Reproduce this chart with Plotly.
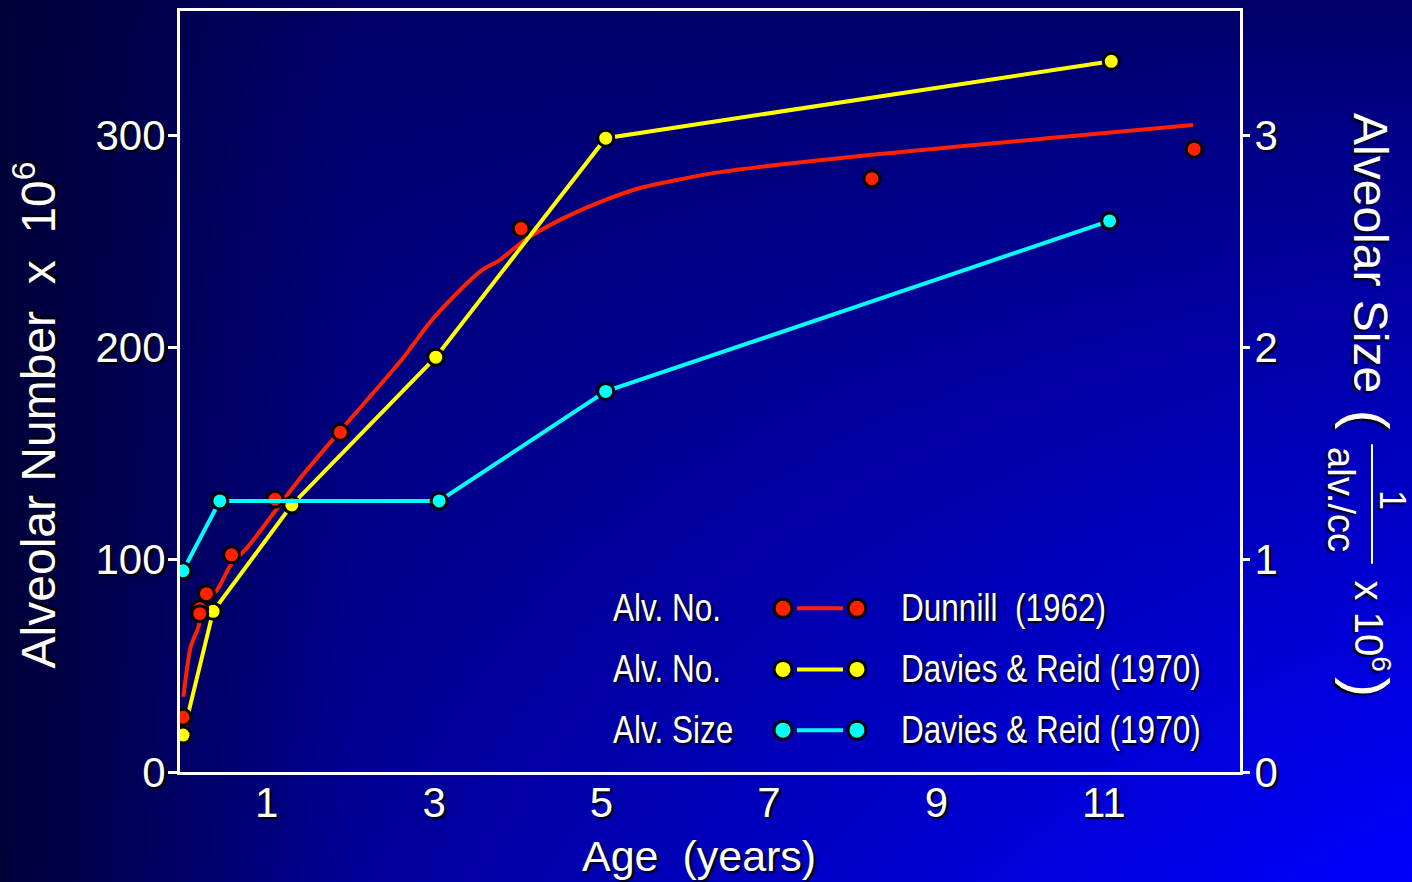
import base64, struct, zlib
import numpy as np
import plotly.graph_objects as go

# ---------------- data ----------------
# Dunnill (1962) alveolar number (x 10^6) - points
dunnill_age = [0.0, 0.2, 0.2, 0.28, 0.58, 1.10, 1.88, 4.04, 8.23, 12.08]
dunnill_num = [25.8, 76.9, 74.6, 84.0, 102.3, 128.5, 160.0, 256.0, 279.5, 293.4]
# Dunnill fitted curve
dunnill_fit_age = [0.004, 0.092, 0.183, 0.263, 0.40, 0.58, 0.765, 1.374, 1.876, 2.617,
                   2.987, 3.548, 3.787, 4.086, 4.504, 4.982, 5.46, 5.90, 6.416, 7.969, 12.067]
dunnill_fit_num = [35.4, 58.8, 68.2, 80.8, 85.4, 98.1, 105.6, 137.1, 160.6, 194.4,
                   213.6, 235.7, 241.3, 250.7, 260.1, 268.5, 275.1, 278.9, 282.6, 289.7, 304.8]
# Davies & Reid (1970) alveolar number
davies_age = [0.0, 0.36, 1.30, 3.02, 5.05, 11.09]
davies_num = [17.4, 75.7, 125.8, 195.4, 298.6, 334.8]
# Davies & Reid (1970) alveolar size (1/(alv./cc) x 10^6)
size_age = [0.0, 0.44, 3.06, 5.05, 11.07]
size_val = [0.948, 1.277, 1.277, 1.793, 2.596]

x_ticks = [1, 3, 5, 7, 9, 11]
y_ticks = [0, 100, 200, 300]
y2_ticks = [0, 1, 2, 3]

legend_left = ["Alv. No.", "Alv. No.", "Alv. Size"]
legend_right = ["Dunnill\u00a0\u00a0(1962)", "Davies & Reid (1970)", "Davies & Reid (1970)"]

# ---------------- styling ----------------
W, H = 1412, 882
L, R, T, B = 180, 172, 8, 110
PW, PH = W - L - R, H - T - B
RED, YEL, CYA = "#ff2200", "#ffff00", "#00ffff"
FONT = "Liberation Sans, Arial, Helvetica, sans-serif"
NARROW = "Liberation Sans Narrow, Arial Narrow, Liberation Sans, sans-serif"
SHADOW = "2px 2px 2px #000000"


def px(xp):
    return (xp - L) / PW


def py(yp):
    return (H - B - yp) / PH


# background gradient as PNG
def make_png(arr):
    h, w, _ = arr.shape
    raw = b"".join(b"\x00" + arr[i].tobytes() for i in range(h))

    def chunk(t, d):
        c = struct.pack(">I", len(d)) + t + d
        return c + struct.pack(">I", zlib.crc32(t + d) & 0xffffffff)

    png = b"\x89PNG\r\n\x1a\n" + chunk(b"IHDR", struct.pack(">IIBBBBB", w, h, 8, 2, 0, 0, 0))
    png += chunk(b"IDAT", zlib.compress(raw, 9)) + chunk(b"IEND", b"")
    return "data:image/png;base64," + base64.b64encode(png).decode()


gw, gh = 353, 221
U, V = np.meshgrid((np.arange(gw) + 0.5) / gw, (np.arange(gh) + 0.5) / gh)
blue = (0x66 + 0x99 * (U * V) ** 0.8) * (0.55 + 0.45 * np.minimum(1, U / 0.25))
img = np.zeros((gh, gw, 3), dtype=np.uint8)
img[..., 2] = np.clip(blue, 0, 255).astype(np.uint8)
bg_src = make_png(img)

mk = lambda c: dict(size=16, color=c, line=dict(color="black", width=3))

fig = go.Figure()
fig.add_trace(go.Scatter(x=dunnill_fit_age, y=dunnill_fit_num, mode="lines",
                         line=dict(color=RED, width=4, shape="spline", smoothing=0.8),
                         hoverinfo="skip"))
fig.add_trace(go.Scatter(x=size_age, y=size_val, mode="lines+markers", yaxis="y2",
                         line=dict(color=CYA, width=4), marker=mk(CYA)))
fig.add_trace(go.Scatter(x=davies_age, y=davies_num, mode="lines+markers",
                         line=dict(color=YEL, width=4), marker=mk(YEL)))
fig.add_trace(go.Scatter(x=dunnill_age, y=dunnill_num, mode="markers", marker=mk(RED)))

tickfont = dict(family=FONT, size=42, color="white", shadow=SHADOW)
fig.update_layout(
    width=W, height=H, autosize=False,
    margin=dict(l=L, r=R, t=T, b=B, pad=0),
    paper_bgcolor="#000050", plot_bgcolor="rgba(0,0,0,0)",
    showlegend=False,
    xaxis=dict(range=[-0.036, 12.628], tickvals=x_ticks, ticks="", showgrid=False,
               zeroline=False, showline=True, mirror=True, linecolor="white", linewidth=3,
               tickfont=tickfont, ticklabelstandoff=-8),
    yaxis=dict(range=[0, 358.5], tickvals=y_ticks, ticks="outside", ticklen=9, tickwidth=3,
               tickcolor="white", showgrid=False, zeroline=False, showline=True, mirror=True,
               linecolor="white", linewidth=3, tickfont=tickfont, ticklabelstandoff=-6),
    yaxis2=dict(range=[0, 3.585], tickvals=y2_ticks, overlaying="y", side="right",
                ticks="outside", ticklen=9, tickwidth=3, tickcolor="white", showgrid=False,
                zeroline=False, showline=False, tickfont=tickfont, ticklabelstandoff=-4),
    images=[dict(source=bg_src, xref="paper", yref="paper", x=-(L + 3) / PW,
                 y=1 + (T + 3) / PH, sizex=(W + 6) / PW, sizey=(H + 6) / PH,
                 sizing="stretch", xanchor="left", yanchor="top", layer="below")],
)

ann = []


def text(s, xp, yp, size, angle=0, fam=FONT, xa="center"):
    ann.append(dict(text=s, x=px(xp), y=py(yp), xref="paper", yref="paper", showarrow=False,
                    textangle=angle, xanchor=xa, yanchor="middle",
                    font=dict(family=fam, size=size, color="white", shadow=SHADOW)))


text("Alveolar Number\u00a0\u00a0x\u00a0\u00a010<sup>6</sup>", 35, 414, 48, angle=-90)
text("Age\u00a0\u00a0(years)", 699, 856, 43)
text("Alveolar Size", 1371, 251, 48, angle=90)
text("(", 1368, 418, 60, angle=90)
text("1", 1393, 499, 36, angle=90)
text("alv./cc", 1341, 498, 38, angle=90)
text("x 10<sup>6</sup>", 1372, 625, 40, angle=90)
text(")", 1368, 687, 60, angle=90)
n_title = len(ann)

rows_y = [607.7, 669, 730]
cols = [RED, YEL, CYA]
shapes = [dict(type="line", xref="paper", yref="paper", x0=px(1372), x1=px(1372),
               y0=py(443), y1=py(563), line=dict(color="white", width=2))]
for i, yy in enumerate(rows_y):
    text(legend_left[i], 611, yy, 38, fam=NARROW, xa="left")
    text(legend_right[i], 899, yy, 38, fam=NARROW, xa="left")
    shapes.append(dict(type="line", xref="paper", yref="paper", x0=px(797), x1=px(843),
                       y0=py(yy), y1=py(yy), line=dict(color=cols[i], width=4)))
    for cx in (783, 857):
        shapes.append(dict(type="circle", xref="paper", yref="paper", xsizemode="pixel",
                           ysizemode="pixel", xanchor=px(cx), yanchor=py(yy),
                           x0=-9, x1=9, y0=-9, y1=9, fillcolor=cols[i],
                           line=dict(color="black", width=3)))

fig.update_layout(annotations=ann, shapes=shapes)

# condense the legend texts horizontally (narrow type face look)
post = """
document.body.style.margin='0';document.body.style.overflow='hidden';
function squeeze(){
  document.querySelectorAll('g.annotation').forEach(function(a){
    var i = +a.getAttribute('data-index');
    if (i >= %d) {
      var t = a.querySelector('text.annotation-text');
      if (t) {
        t.removeAttribute('transform');
        var b = t.getBBox();
        t.setAttribute('transform', 'translate(' + b.x + ',0) scale(0.83,1) translate(' + (-b.x) + ',0)');
      }
    }
  });
}
squeeze();
if (document.fonts && document.fonts.ready) { document.fonts.ready.then(squeeze); }
""" % n_title

fig.write_html("out.html", config={"displayModeBar": False}, post_script=post)
